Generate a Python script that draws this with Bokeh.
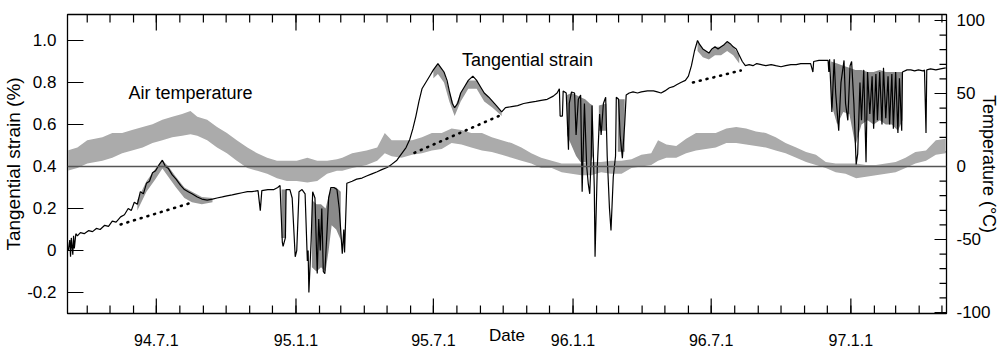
import pandas as pd
from bokeh.plotting import figure
from bokeh.models import Range1d, FixedTicker, Span, Label, LinearAxis
from bokeh.embed import file_html
from bokeh.resources import INLINE

FONT = "Liberation Sans"

# ---- axes / ticks (x = days since 1994-01-01) ----
x_start, x_end = 64, 1222
y_start, y_end = -0.3, 1.1238
t_start, t_end = -100.7, 104.1
x_major_days = [181, 365, 546, 730, 912, 1096]
x_major_labels = ["94.7.1", "95.1.1", "95.7.1", "96.1.1", "96.7.1", "97.1.1"]
month_starts = pd.date_range("1994-04-01", "1997-05-01", freq="MS")
x_minor_days = [int((m - pd.Timestamp("1994-01-01")).days) for m in month_starts]
y_ticks = [-0.2, 0, 0.2, 0.4, 0.6, 0.8, 1.0]
y_tick_labels = ["-0.2", "0", "0.2", "0.4", "0.6", "0.8", "1.0"]
t_ticks = [-100, -50, 0, 50, 100]
t_tick_labels = ["-100", "-50", "0", "50", "100"]
t_minor = list(range(-90, 100, 10))

# ---- tangential strain (%) ----
strain_day = [65, 67, 68, 69, 71, 72, 73, 75, 77, 81, 86, 92, 97, 102, 107, 113, 118, 123, 128, 134,
              139, 144, 148, 152, 156, 160, 164, 168, 172, 176, 180, 185, 189, 193, 197, 202, 207, 213, 218, 223,
              228, 235, 241, 248, 255, 261, 268, 274, 281, 287, 294, 301, 307, 315, 318, 320, 328, 336, 341, 344,
              347, 348, 351, 352, 357, 360, 364, 366, 369, 373, 377, 380, 381, 382, 385, 387, 390, 393, 395, 397,
              399, 401, 403, 406, 408, 411, 415, 419, 422, 426, 428, 429, 432, 439, 445, 452, 458, 465, 472, 478,
              485, 491, 498, 504, 510, 515, 519, 523, 527, 531, 536, 541, 546, 552, 556, 560, 564, 567, 571, 574,
              578, 582, 587, 592, 598, 603, 608, 613, 619, 624, 629, 636, 641, 649, 657, 665, 673, 681, 688, 696,
              704, 709, 712, 713, 716, 717, 721, 724, 725, 728, 732, 734, 737, 740, 742, 745, 748, 750, 752, 754,
              755, 758, 759, 762, 765, 767, 770, 773, 775, 778, 780, 783, 786, 787, 790, 792, 795, 798, 800, 804,
              809, 815, 820, 828, 836, 841, 846, 851, 857, 862, 867, 872, 878, 882, 886, 890, 894, 897, 901, 905,
              909, 913, 917, 921, 925, 929, 933, 937, 941, 945, 949, 953, 957, 962, 967, 972, 978, 984, 991, 997,
              1004, 1010, 1017, 1024, 1030, 1037, 1043, 1046, 1047, 1054, 1060, 1066, 1067, 1068, 1071, 1074, 1076, 1080, 1083, 1087,
              1089, 1092, 1095, 1097, 1100, 1103, 1105, 1108, 1110, 1113, 1116, 1118, 1121, 1124, 1126, 1129, 1131, 1134, 1137, 1139,
              1142, 1145, 1147, 1150, 1152, 1155, 1158, 1160, 1163, 1164, 1170, 1175, 1180, 1185, 1191, 1193, 1195, 1196, 1201, 1208,
              1214, 1221]
strain_val = [0.00, 0.05, -0.03, 0.06, -0.02, 0.07, 0.01, 0.08, 0.07, 0.085, 0.08, 0.095, 0.09, 0.105, 0.10, 0.12, 0.115, 0.14, 0.135, 0.16,
              0.17, 0.20, 0.19, 0.23, 0.22, 0.28, 0.27, 0.32, 0.33, 0.37, 0.38, 0.41, 0.43, 0.40, 0.39, 0.36, 0.34, 0.31, 0.29, 0.28,
              0.27, 0.255, 0.245, 0.24, 0.245, 0.25, 0.255, 0.26, 0.265, 0.27, 0.275, 0.28, 0.28, 0.285, 0.19, 0.285, 0.29, 0.29, 0.30, 0.31,
              0.04, 0.02, 0.06, 0.29, 0.29, 0.25, -0.03, 0.0, 0.28, 0.29, 0.27, -0.05, 0.0, -0.2, 0.05, 0.28, 0.25, -0.11, 0.15, 0.0,
              0.2, -0.1, -0.11, 0.1, 0.25, 0.30, 0.30, 0.29, 0.2, -0.015, 0.1, -0.01, 0.32, 0.33, 0.34, 0.345, 0.355, 0.365, 0.375, 0.385,
              0.395, 0.41, 0.43, 0.46, 0.49, 0.53, 0.58, 0.64, 0.71, 0.77, 0.80, 0.83, 0.86, 0.89, 0.87, 0.85, 0.81, 0.76, 0.70, 0.68,
              0.70, 0.75, 0.78, 0.81, 0.83, 0.81, 0.78, 0.75, 0.73, 0.71, 0.69, 0.66, 0.68, 0.685, 0.69, 0.70, 0.705, 0.71, 0.715, 0.72,
              0.735, 0.75, 0.77, 0.64, 0.64, 0.76, 0.75, 0.48, 0.70, 0.755, 0.75, 0.55, 0.72, 0.74, 0.28, 0.70, 0.40, 0.32, 0.27, 0.45,
              0.69, 0.30, -0.03, 0.40, 0.65, 0.55, 0.70, 0.73, 0.45, 0.20, 0.095, 0.35, 0.45, 0.73, 0.72, 0.55, 0.44, 0.60, 0.74, 0.75,
              0.755, 0.75, 0.755, 0.76, 0.76, 0.755, 0.75, 0.76, 0.775, 0.78, 0.79, 0.80, 0.81, 0.83, 0.88, 0.95, 1.00, 0.98, 0.96, 0.95,
              0.94, 0.96, 0.97, 0.96, 0.97, 0.98, 0.995, 0.985, 0.97, 0.96, 0.93, 0.90, 0.88, 0.885, 0.88, 0.89, 0.885, 0.88, 0.885, 0.88,
              0.875, 0.88, 0.885, 0.885, 0.89, 0.89, 0.89, 0.85, 0.90, 0.905, 0.905, 0.905, 0.85, 0.91, 0.66, 0.91, 0.75, 0.57, 0.80, 0.905,
              0.70, 0.62, 0.88, 0.90, 0.70, 0.41, 0.46, 0.80, 0.62, 0.86, 0.42, 0.85, 0.65, 0.83, 0.58, 0.84, 0.62, 0.85, 0.60, 0.87,
              0.63, 0.83, 0.60, 0.84, 0.58, 0.85, 0.56, 0.82, 0.57, 0.85, 0.86, 0.86, 0.855, 0.86, 0.855, 0.86, 0.56, 0.86, 0.865, 0.86,
              0.865, 0.87]

# thin hatched band that follows the strain record where it oscillates quickly
band1_day = [156, 168, 180, 189, 197, 207, 218, 228, 241, 255]
band1_lo = [0.19, 0.28, 0.34, 0.39, 0.35, 0.30, 0.25, 0.23, 0.22, 0.23]
band1_hi = [0.24, 0.33, 0.39, 0.43, 0.40, 0.35, 0.30, 0.28, 0.255, 0.25]
band2_day = [546, 552, 560, 567, 574, 582, 592, 603, 613, 624, 636]
band2_lo = [0.82, 0.84, 0.80, 0.71, 0.64, 0.71, 0.77, 0.77, 0.71, 0.68, 0.64]
band2_hi = [0.86, 0.89, 0.85, 0.76, 0.68, 0.75, 0.81, 0.81, 0.75, 0.71, 0.66]
band3_day = [894, 901, 909, 917, 925, 933, 941, 949]
band3_lo = [0.95, 0.92, 0.91, 0.93, 0.93, 0.95, 0.93, 0.89]
band3_hi = [1.00, 0.96, 0.94, 0.97, 0.97, 0.995, 0.97, 0.93]

# dense-oscillation (grey) envelopes of the strain record in winter
shade1_day = [346, 352]
shade1_lo = [0.06, 0.06]
shade1_hi = [0.29, 0.29]
shade2_day = [386, 392, 398, 404, 408, 412, 418, 424]
shade2_lo = [-0.08, -0.1, -0.08, -0.1, 0.0, 0.12, 0.1, 0.05]
shade2_hi = [0.24, 0.22, 0.22, 0.2, 0.26, 0.3, 0.3, 0.28]
shade3_day = [722, 728, 734, 740, 746, 752, 756]
shade3_lo = [0.55, 0.5, 0.45, 0.42, 0.42, 0.40, 0.45]
shade3_hi = [0.74, 0.75, 0.74, 0.73, 0.72, 0.70, 0.69]
shade4_day = [764, 774]
shade4_lo = [0.57, 0.57]
shade4_hi = [0.69, 0.70]
shade5_day = [789, 798]
shade5_lo = [0.47, 0.47]
shade5_hi = [0.72, 0.72]
shade6_day = [1070, 1078, 1086, 1094, 1102, 1110, 1118, 1126, 1134, 1142, 1150, 1158, 1164]
shade6_lo = [0.70, 0.60, 0.66, 0.65, 0.50, 0.60, 0.62, 0.60, 0.62, 0.60, 0.60, 0.57, 0.62]
shade6_hi = [0.90, 0.89, 0.88, 0.87, 0.86, 0.86, 0.85, 0.85, 0.86, 0.85, 0.85, 0.85, 0.85]

# dotted reference lines
trend1_day = [134, 224]
trend1_val = [0.124, 0.224]
trend2_day = [521, 632]
trend2_val = [0.465, 0.64]
trend3_day = [888, 951]
trend3_val = [0.80, 0.857]

# ---- air temperature (deg C): daily range band ----
temp_day = [64, 77, 90, 110, 123, 136, 149, 163, 176, 189, 202, 215, 226, 235, 248, 261, 274, 287, 301, 314,
            327, 340, 353, 366, 380, 393, 406, 419, 426, 439, 458, 472, 482, 491, 504, 518, 531, 544, 557, 570,
            583, 596, 610, 623, 636, 649, 662, 675, 688, 702, 715, 728, 741, 754, 767, 780, 794, 807, 820, 833,
            842, 853, 866, 879, 892, 905, 918, 932, 945, 958, 971, 984, 997, 1010, 1024, 1037, 1050, 1063, 1076, 1089,
            1103, 1116, 1129, 1142, 1155, 1168, 1181, 1195, 1208, 1221]
temp_hi = [11, 13, 18, 20, 23, 23, 25, 27, 29, 32, 34, 36, 38, 34, 32, 27, 23, 18, 13, 9,
           6, 4, 4, 4, 6, 4, 4, 5, 6, 9, 11, 13, 23, 18, 18, 18, 20, 23, 23, 26,
           25, 23, 23, 20, 18, 16, 13, 9, 6, 4, 2, 2, 2, 3, 3, 4, 4, 5, 8, 9,
           18, 15, 14, 19, 23, 23, 23, 26, 27, 26, 24, 23, 20, 16, 13, 10, 8, 3, 2, 2,
           2, 1, 1, 2, 3, 6, 10, 11, 18, 19]
temp_lo = [-3, -1, 2, 4, 6, 9, 11, 13, 16, 18, 20, 21, 22, 21, 18, 13, 9, 4, -1, -3,
           -5, -8, -10, -10, -11, -10, -5, -3, -3, -1, 1, 4, 9, 7, 6, 8, 9, 11, 12, 16,
           15, 13, 11, 10, 8, 6, 4, 2, -1, -1, -4, -5, -6, -6, -4, -5, -5, -1, 0, 1,
           4, 6, 6, 9, 11, 12, 13, 16, 16, 15, 14, 13, 11, 9, 6, 3, 1, -1, -4, -5,
           -8, -7, -6, -5, -4, -1, 2, 4, 8, 9]

FRAME_W, FRAME_H = 881, 299
p = figure(width=1002, height=347, output_backend="svg", toolbar_location=None,
           x_range=Range1d(x_start, x_end), y_range=Range1d(y_start, y_end),
           min_border_left=65, min_border_right=56, min_border_top=14, min_border_bottom=34)
p.extra_y_ranges = {"temp": Range1d(t_start, t_end)}
p.grid.visible = False
p.background_fill_color = "white"
p.border_fill_color = "white"
p.outline_line_color = "black"
p.outline_line_width = 1.3

xa = p.xaxis[0]
xa.ticker = FixedTicker(ticks=x_major_days, minor_ticks=x_minor_days)
xa.major_label_overrides = dict(zip(x_major_days, x_major_labels))
xa.major_tick_line_color = None
xa.minor_tick_line_color = None
xa.major_label_standoff = 14
xa.major_label_text_font = FONT
xa.major_label_text_font_size = "16px"
xa.major_label_text_color = "black"
xa.axis_label = "Date"
xa.axis_label_standoff = -23
xa.axis_label_text_font = FONT
xa.axis_label_text_font_size = "17px"
xa.axis_label_text_font_style = "normal"
xa.axis_label_text_color = "black"

ya = p.yaxis[0]
ya.ticker = FixedTicker(ticks=y_ticks, minor_ticks=[])
ya.major_label_overrides = dict(zip(y_ticks, y_tick_labels))
ya.major_tick_line_color = None
ya.minor_tick_line_color = None
ya.major_label_standoff = 5
ya.major_label_text_font = FONT
ya.major_label_text_font_size = "17px"
ya.major_label_text_color = "black"
ya.axis_label = "Tangential strain (%)"
ya.axis_label_standoff = 0
ya.axis_label_text_font = FONT
ya.axis_label_text_font_size = "19px"
ya.axis_label_text_font_style = "normal"
ya.axis_label_text_color = "black"

ra = LinearAxis(y_range_name="temp", ticker=FixedTicker(ticks=t_ticks, minor_ticks=t_minor),
                major_tick_line_color=None, minor_tick_line_color=None,
                major_label_standoff=4, major_label_text_font=FONT, major_label_text_font_size="17px",
                major_label_text_color="black",
                axis_label="Temperature (°C)", axis_label_standoff=-15, axis_label_text_font=FONT,
                axis_label_text_font_size="18px", axis_label_text_font_style="normal",
                axis_label_text_color="black")
ra.major_label_overrides = dict(zip(t_ticks, t_tick_labels))
p.add_layout(ra, "right")

# inward tick marks, built from the tick lists (lengths given in pixels)
dx = (x_end - x_start) / FRAME_W
dy = (y_end - y_start) / FRAME_H
tick_kw = dict(line_color="black", line_width=1.2)
for ticks, n_px in [(x_major_days, 15), (x_minor_days, 8)]:
    p.segment(x0=ticks, y0=[y_start] * len(ticks), x1=ticks, y1=[y_start + n_px * dy] * len(ticks), **tick_kw)
for ticks, n_px in [(x_major_days, 16), (x_minor_days, 8)]:
    p.segment(x0=ticks, y0=[y_end] * len(ticks), x1=ticks, y1=[y_end - n_px * dy] * len(ticks), **tick_kw)
p.segment(x0=[x_start] * len(y_ticks), y0=y_ticks, x1=[x_start + 16 * dx] * len(y_ticks), y1=y_ticks, **tick_kw)
for ticks, n_px in [(t_ticks, 12), (t_minor, 7)]:
    p.segment(x0=[x_end] * len(ticks), y0=ticks, x1=[x_end - n_px * dx] * len(ticks), y1=ticks,
              y_range_name="temp", **tick_kw)

# temperature band and its zero line
p.varea(x=temp_day, y1=temp_lo, y2=temp_hi, y_range_name="temp", fill_color="#ababab")
p.add_layout(Span(location=0, dimension="width", y_range_name="temp",
                  line_color="#555555", line_width=1.5))

for d, lo, hi in [(band1_day, band1_lo, band1_hi), (band2_day, band2_lo, band2_hi),
                  (band3_day, band3_lo, band3_hi)]:
    p.varea(x=d, y1=lo, y2=hi, fill_color="#9a9a9a")

for d, lo, hi in [(shade1_day, shade1_lo, shade1_hi), (shade2_day, shade2_lo, shade2_hi),
                  (shade3_day, shade3_lo, shade3_hi), (shade4_day, shade4_lo, shade4_hi),
                  (shade5_day, shade5_lo, shade5_hi), (shade6_day, shade6_lo, shade6_hi)]:
    p.varea(x=d, y1=lo, y2=hi, fill_color="#8a8a8a")

p.line(strain_day, strain_val, line_color="black", line_width=1.2)

for d, v in [(trend1_day, trend1_val), (trend2_day, trend2_val), (trend3_day, trend3_val)]:
    p.line(d, v, line_color="black", line_width=2.6, line_dash="1 6", line_cap="round")

lab = dict(text_font=FONT, text_color="black", text_align="center", text_baseline="middle")
p.add_layout(Label(x=226, y=0.748, text="Air temperature", text_font_size="18px", **lab))
p.add_layout(Label(x=670, y=0.905, text="Tangential strain", text_font_size="18px", **lab))

open("out.html", "w").write(file_html(p, INLINE))
